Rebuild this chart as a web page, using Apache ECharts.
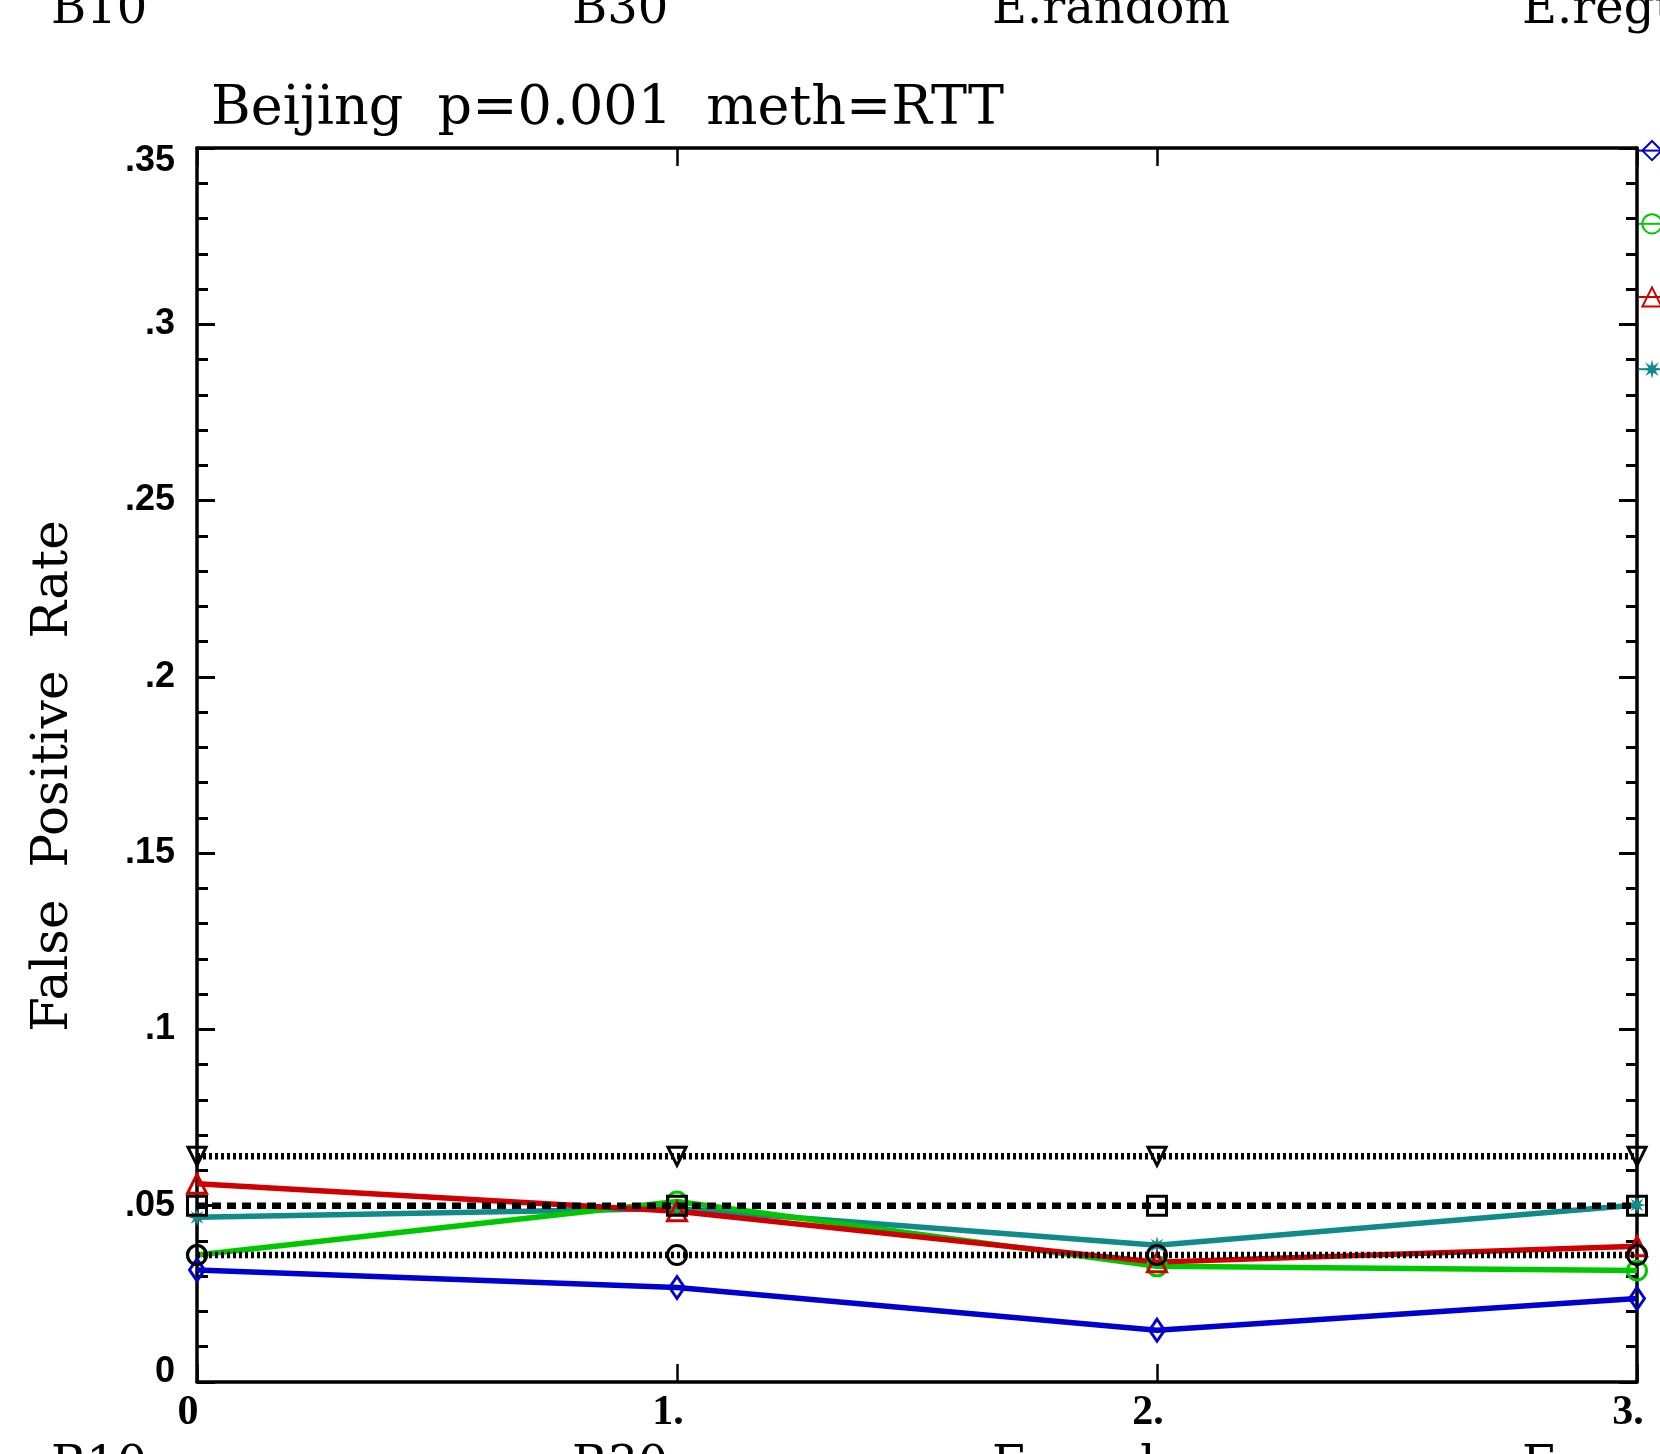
<!DOCTYPE html>
<html lang="en">
<head>
    <meta charset="UTF-8">
    <title>Beijing p=0.001 meth=RTT</title>
    <script src="https://cdn.jsdelivr.net/npm/echarts@6/dist/echarts.min.js"></script>
    <style>
        html, body { margin: 0; padding: 0; background: #ffffff; }
        #chart { width: 1660px; height: 1454px; }
    </style>
</head>
<body>
<div id="chart"></div>
<script>
    // values (x = method index 0..3)
    var xValues = [0, 1, 2, 3];
    var blueRate = [0.0318, 0.0268, 0.0147, 0.0237];
    var greenRate = [0.0360, 0.0512, 0.0328, 0.0316];
    var redRate = [0.0562, 0.0484, 0.0340, 0.0385];
    var tealRate = [0.0467, 0.0492, 0.0388, 0.0502];
    var upperBand = [0.064, 0.064, 0.064, 0.064];
    var nominalRate = [0.05, 0.05, 0.05, 0.05];
    var lowerBand = [0.036, 0.036, 0.036, 0.036];
    var seriesNames = ['A', 'B', 'C', 'D'];
    var panelLabels = ['B10', 'B30', 'E.random', 'E.regular'];
    var panelLabelLeft = [51, 572, 992, 1522];

    function pairs(ys) {
        return xValues.map(function (x, i) { return [x, ys[i]]; });
    }

    var serifFont = '"DejaVu Serif", serif';
    var starPath = 'path://M20 10 L13.7 11.53 L17.07 17.07 L11.53 13.7 L10 20 L8.47 13.7 L2.93 17.07 L6.3 11.53 L0 10 L6.3 8.47 L2.93 2.93 L8.47 6.3 L10 0 L11.53 6.3 L17.07 2.93 L13.7 8.47 Z';

    function colorLine(name, ys, color, symbol, size) {
        return {
            name: name,
            type: 'line',
            data: pairs(ys),
            symbol: symbol,
            symbolSize: size,
            lineStyle: { color: color, width: 5.5 },
            itemStyle: { color: 'rgba(255,255,255,0)', borderColor: color, borderWidth: 3 },
            z: 3
        };
    }

    function refLine(name, ys, dash, symbol, size, rotate) {
        return {
            name: name,
            type: 'line',
            data: pairs(ys),
            symbol: symbol,
            symbolSize: size,
            symbolRotate: rotate || 0,
            lineStyle: { color: '#000', width: 6.5, type: dash },
            itemStyle: { color: 'rgba(255,255,255,0)', borderColor: '#000', borderWidth: 3 },
            z: 4
        };
    }

    var tealSeries = colorLine(seriesNames[3], tealRate, '#118a8a', starPath, 18);
    tealSeries.itemStyle = { color: '#118a8a' };

    var graphics = [];
    panelLabels.forEach(function (txt, i) {
        graphics.push({
            type: 'text', left: panelLabelLeft[i], top: -13,
            style: { text: txt, font: '48px ' + serifFont, fill: '#000' }
        });
        graphics.push({
            type: 'text', left: panelLabelLeft[i], top: 1444,
            style: { text: txt, font: '48px ' + serifFont, fill: '#000' }
        });
    });

    var axisLineStyle = { color: '#000', width: 3.5 };
    var tickFont = '"Liberation Sans", sans-serif';

    var myChart = echarts.init(document.getElementById('chart'));
    var option = {
        animation: false,
        backgroundColor: '#ffffff',
        title: {
            text: 'Beijing  p=0.001  meth=RTT',
            left: 206,
            top: 78,
            textStyle: { fontFamily: serifFont, fontSize: 54, fontWeight: 'normal', color: '#000' }
        },
        legend: {
            orient: 'vertical',
            left: 1633,
            top: 135,
            itemWidth: 26,
            itemHeight: 24,
            itemGap: 52,
            textStyle: { fontSize: 14, color: '#000' },
            data: seriesNames
        },
        grid: { left: 197, right: 23, top: 148, bottom: 72 },
        xAxis: [{
            type: 'value', position: 'bottom', min: 0, max: 3, interval: 1,
            axisLine: { show: true, onZero: false, lineStyle: axisLineStyle },
            axisTick: { inside: true, length: 18, lineStyle: { color: '#000', width: 2.5 } },
            splitLine: { show: false },
            axisLabel: {
                margin: 10, color: '#000', fontFamily: '"Liberation Serif", serif', fontSize: 42,
                fontWeight: 'bold',
                padding: [0, 18, 0, 0],
                formatter: function (v) { return v === 0 ? '0' : v + '.'; }
            }
        }, {
            type: 'value', position: 'top', min: 0, max: 3, interval: 1,
            axisLine: { show: true, onZero: false, lineStyle: axisLineStyle },
            axisTick: { inside: true, length: 18, lineStyle: { color: '#000', width: 2.5 } },
            splitLine: { show: false },
            axisLabel: { show: false }
        }],
        yAxis: [{
            type: 'value', position: 'left', min: 0, max: 0.35, interval: 0.05,
            name: 'False  Positive  Rate',
            nameLocation: 'middle',
            nameGap: 118,
            nameTextStyle: { fontFamily: serifFont, fontSize: 50, color: '#000', padding: [0, 22, 0, 0] },
            axisLine: { show: true, onZero: false, lineStyle: axisLineStyle },
            axisTick: { inside: true, length: 18, lineStyle: { color: '#000', width: 3 } },
            minorTick: { show: true, splitNumber: 5, length: 11, lineStyle: { color: '#000', width: 3 } },
            splitLine: { show: false },
            axisLabel: {
                margin: 22, color: '#000', fontFamily: tickFont, fontSize: 36,
                fontWeight: 'bold',
                formatter: function (v) {
                    if (v === 0) return '{lo|0}';
                    var s = String(+v.toFixed(2)).replace(/^0/, '');
                    return v >= 0.349 ? '{hi|' + s + '}' : s;
                },
                rich: {
                    hi: { fontSize: 36, fontWeight: 'bold', fontFamily: tickFont, padding: [26, 0, 0, 0] },
                    lo: { fontSize: 36, fontWeight: 'bold', fontFamily: tickFont, padding: [0, 0, 20, 0] }
                }
            }
        }, {
            type: 'value', position: 'right', min: 0, max: 0.35, interval: 0.05,
            axisLine: { show: true, onZero: false, lineStyle: axisLineStyle },
            axisTick: { inside: true, length: 18, lineStyle: { color: '#000', width: 3 } },
            minorTick: { show: true, splitNumber: 5, length: 11, lineStyle: { color: '#000', width: 3 } },
            splitLine: { show: false },
            axisLabel: { show: false }
        }],
        graphic: graphics,
        series: [
            tealSeries,
            colorLine(seriesNames[1], greenRate, '#00c800', 'circle', 19),
            colorLine(seriesNames[2], redRate, '#d00000', 'triangle', 19),
            colorLine(seriesNames[0], blueRate, '#0000d0', 'diamond', [15, 22]),
            refLine('upper', upperBand, [3, 3], 'triangle', 18, 180),
            refLine('nominal', nominalRate, [9, 6], 'rect', 19),
            refLine('lower', lowerBand, [3, 3], 'circle', 19)
        ]
    };
    myChart.setOption(option);
</script>
</body>
</html>
